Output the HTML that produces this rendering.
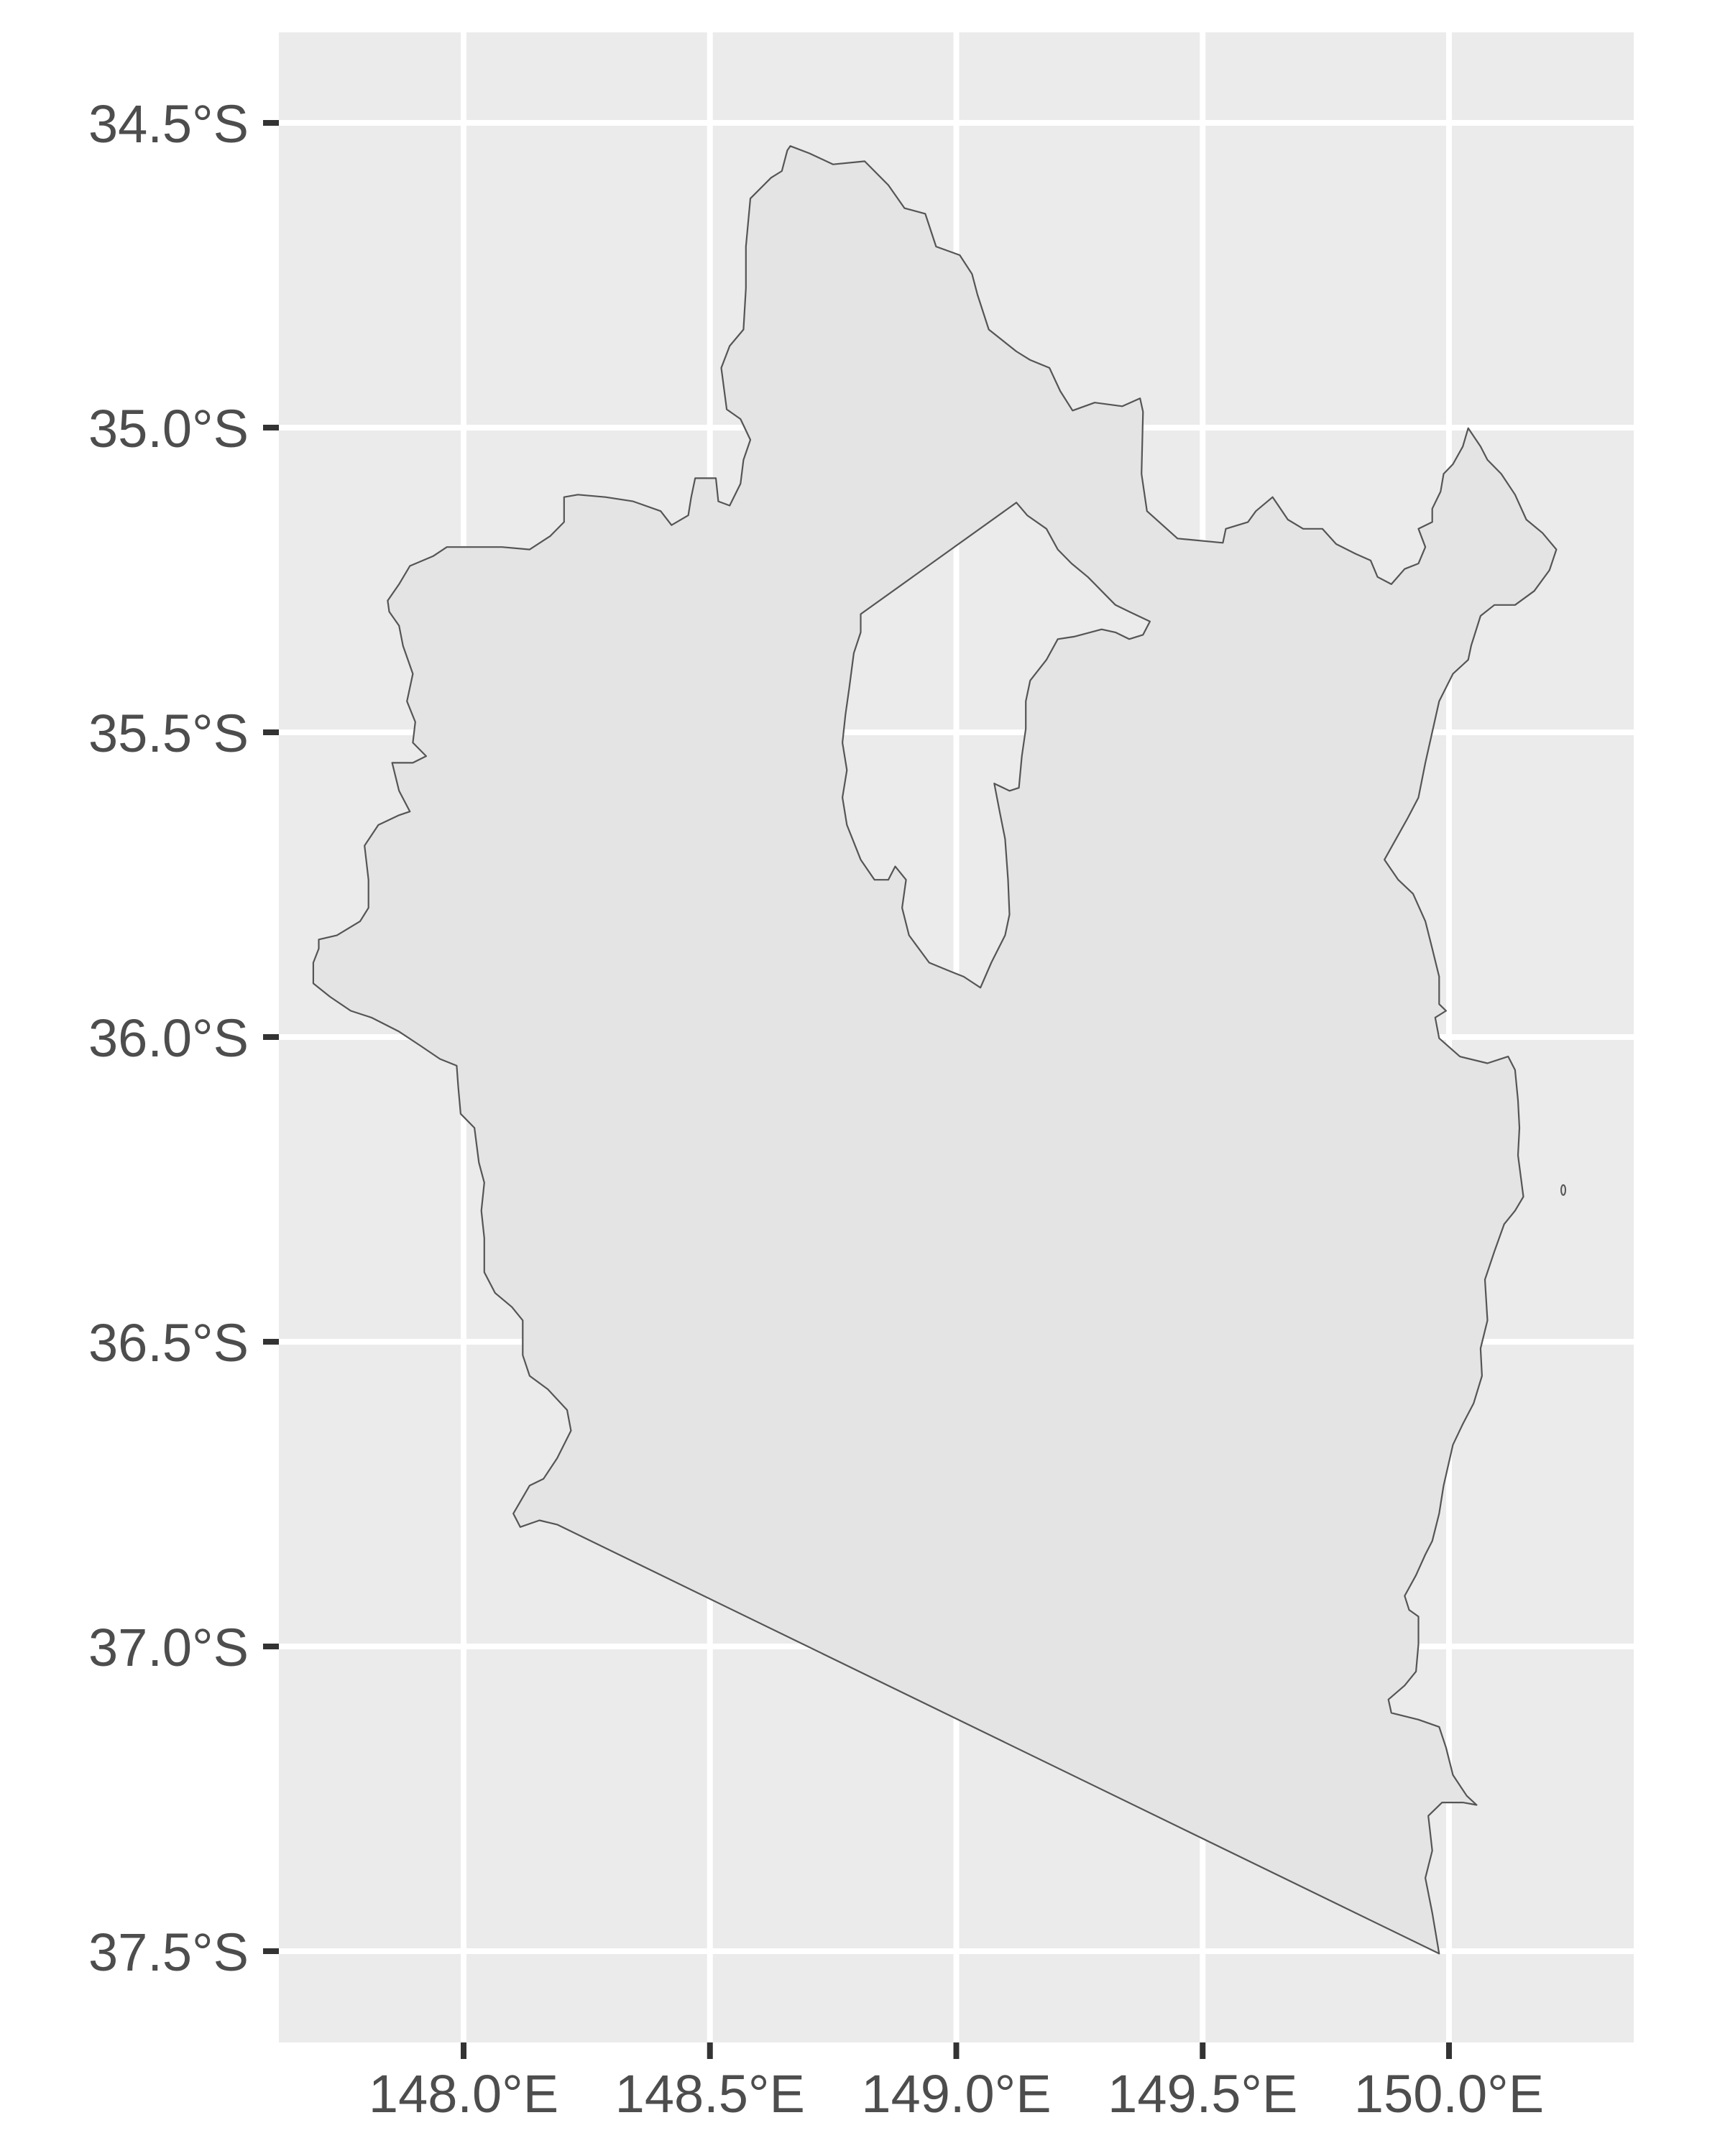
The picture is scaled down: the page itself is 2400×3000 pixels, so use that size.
<!DOCTYPE html>
<html><head><meta charset="utf-8"><style>
html,body{margin:0;padding:0;background:#fff}
svg{display:block}
text{font-family:"Liberation Sans",Arial,sans-serif;fill:#4D4D4D}
</style></head><body>
<svg id="chart" width="2400" height="3000" viewBox="0 0 2400 3000" xmlns="http://www.w3.org/2000/svg">
<rect x="0" y="0" width="2400" height="3000" fill="#fff"/>
<rect x="388" y="45" width="1885" height="2797" fill="#EBEBEB"/>
<g id="grid"></g>
<g id="regions"></g>
<g id="yaxis"></g>
<g id="xaxis"></g>
</svg>
<script>
const lonTicks=[148.0,148.5,149.0,149.5,150.0];
const lonLabels=["148.0°E","148.5°E","149.0°E","149.5°E","150.0°E"];
const latTicks=[34.5,35.0,35.5,36.0,36.5,37.0,37.5];
const latLabels=["34.5°S","35.0°S","35.5°S","36.0°S","36.5°S","37.0°S","37.5°S"];

const outerLon=[148.663,148.702,148.750,148.814,148.862,148.895,148.937,148.959,149.007,149.032,149.043,149.066,149.122,149.150,149.189,149.211,149.236,149.281,149.337,149.373,149.379,149.376,149.387,149.449,149.541,149.547,149.592,149.608,149.642,149.673,149.704,149.743,149.771,149.810,149.841,149.855,149.883,149.910,149.938,149.952,149.938,149.966,149.966,149.983,149.989,150.008,150.028,150.039,150.064,150.078,150.106,150.134,150.157,150.190,150.218,150.204,150.173,150.134,150.092,150.064,150.045,150.039,150.008,149.980,149.952,149.938,149.916,149.869,149.897,149.927,149.952,149.966,149.980,149.980,149.994,149.972,149.980,150.022,150.078,150.120,150.134,150.140,150.143,150.140,150.151,150.134,150.112,150.092,150.073,150.078,150.064,150.067,150.050,150.028,150.008,149.989,149.980,149.966,149.952,149.933,149.910,149.919,149.938,149.938,149.933,149.910,149.877,149.883,149.938,149.980,149.994,150.008,150.036,150.056,150.028,149.986,149.958,149.966,149.952,149.966,149.980,
148.190,148.154,148.115,148.101,148.134,148.162,148.190,148.218,148.210,148.171,148.134,148.120,148.120,148.098,148.064,148.042,148.042,148.036,148.042,148.031,148.022,147.994,147.989,147.986,147.952,147.910,147.869,147.813,147.771,147.729,147.695,147.695,147.706,147.706,147.743,147.790,147.807,147.807,147.799,147.827,147.869,147.891,147.869,147.855,147.897,147.924,147.897,147.902,147.885,147.897,147.877,147.869,147.849,147.846,147.869,147.891,147.938,147.966,148.022,148.078,148.134,148.176,148.204,148.204,148.232,148.288,148.344,148.400,148.422,148.456,148.462,148.470,148.512,148.517,148.540,148.562,148.568,148.582,148.562,148.534,148.523,148.540,148.568,148.573,148.573,148.582,148.624,148.646,148.657];
const outerLat=[34.538,34.550,34.568,34.563,34.602,34.640,34.649,34.703,34.717,34.748,34.782,34.839,34.875,34.889,34.902,34.940,34.972,34.959,34.965,34.952,34.974,35.076,35.137,35.182,35.189,35.166,35.155,35.137,35.114,35.151,35.166,35.166,35.191,35.207,35.218,35.245,35.257,35.232,35.223,35.196,35.166,35.155,35.133,35.105,35.076,35.060,35.031,35.001,35.031,35.053,35.076,35.110,35.151,35.173,35.200,35.234,35.268,35.291,35.291,35.309,35.358,35.381,35.404,35.449,35.550,35.607,35.641,35.709,35.742,35.765,35.810,35.855,35.901,35.946,35.957,35.968,36.002,36.032,36.043,36.032,36.054,36.104,36.149,36.194,36.262,36.285,36.307,36.352,36.398,36.465,36.511,36.556,36.601,36.635,36.669,36.736,36.782,36.827,36.849,36.883,36.917,36.940,36.951,36.996,37.041,37.064,37.087,37.109,37.120,37.132,37.166,37.211,37.245,37.260,37.256,37.256,37.278,37.335,37.380,37.437,37.504,
36.800,36.793,36.804,36.782,36.736,36.725,36.691,36.646,36.612,36.578,36.556,36.522,36.465,36.443,36.420,36.386,36.330,36.285,36.239,36.206,36.149,36.126,36.081,36.047,36.036,36.013,35.991,35.968,35.957,35.934,35.912,35.878,35.855,35.840,35.833,35.810,35.788,35.742,35.686,35.652,35.636,35.630,35.596,35.550,35.550,35.539,35.517,35.483,35.449,35.404,35.358,35.325,35.302,35.284,35.257,35.227,35.211,35.196,35.196,35.196,35.200,35.178,35.155,35.114,35.110,35.114,35.121,35.137,35.160,35.144,35.114,35.083,35.083,35.121,35.128,35.092,35.053,35.020,34.986,34.970,34.902,34.866,34.839,34.771,34.703,34.624,34.590,34.579,34.545];

const holeLon=[148.806,149.122,149.144,149.183,149.206,149.234,149.267,149.295,149.323,149.351,149.393,149.379,149.351,149.323,149.295,149.239,149.206,149.183,149.150,149.141,149.141,149.133,149.127,149.108,149.077,149.088,149.099,149.105,149.108,149.099,149.071,149.049,149.015,148.987,148.945,148.904,148.890,148.898,148.876,148.862,148.834,148.806,148.778,148.769,148.778,148.769,148.775,148.783,148.792,148.806];
const holeLat=[35.306,35.123,35.144,35.166,35.200,35.223,35.245,35.268,35.291,35.302,35.318,35.340,35.347,35.336,35.331,35.343,35.347,35.381,35.415,35.449,35.494,35.539,35.591,35.596,35.584,35.630,35.675,35.742,35.799,35.833,35.878,35.919,35.901,35.892,35.878,35.833,35.788,35.742,35.720,35.742,35.742,35.709,35.652,35.607,35.562,35.517,35.471,35.426,35.370,35.336];

const islandLon=[150.232];
const islandLat=[36.251];

const NS="http://www.w3.org/2000/svg";
const X0=388,X1=2273,Y0=45,Y1=2842;
function xs(lon){return 645+(lon-148)*685.5;}
function ys(lat){return 171+(lat-34.5)*848;}
function mk(tag,attrs,parent){const e=document.createElementNS(NS,tag);for(const k in attrs)e.setAttribute(k,attrs[k]);parent.appendChild(e);return e;}

const grid=document.getElementById('grid');
lonTicks.forEach(v=>{
  const l=mk('line',{x1:xs(v),x2:xs(v),y1:Y0,y2:Y1,stroke:'#fff','stroke-width':8},grid);
  
  
});
latTicks.forEach(v=>{
  const l=mk('line',{x1:X0,x2:X1,y1:ys(v),y2:ys(v),stroke:'#fff','stroke-width':8},grid);
  
  
});

function ring(lons,lats){return lons.map((v,i)=>(i?'L':'M')+xs(v).toFixed(1)+','+ys(lats[i]).toFixed(1)).join('')+'Z';}
const reg=document.getElementById('regions');
const p=mk('path',{d:ring(outerLon,outerLat)+ring(holeLon,holeLat),fill:'#E4E4E4','fill-rule':'evenodd',stroke:'#555','stroke-width':2.2,'stroke-linejoin':'round'},reg);


islandLon.forEach((v,i)=>{
  const e=mk('ellipse',{cx:xs(v),cy:ys(islandLat[i]),rx:3,ry:7,fill:'#E4E4E4',stroke:'#555','stroke-width':2},reg);
  
  
});

const ya=document.getElementById('yaxis');
latTicks.forEach((v,i)=>{
  const t=mk('line',{x1:366,x2:388,y1:ys(v),y2:ys(v),stroke:'#333','stroke-width':8},ya);
  
  
  const tx=mk('text',{x:346,y:ys(v)+27,'text-anchor':'end','font-size':74},ya);
  tx.textContent=latLabels[i];
  
  
});
const xa=document.getElementById('xaxis');
lonTicks.forEach((v,i)=>{
  const t=mk('line',{x1:xs(v),x2:xs(v),y1:2842,y2:2865,stroke:'#333','stroke-width':8},xa);
  
  
  const tx=mk('text',{x:xs(v),y:2939,'text-anchor':'middle','font-size':74},xa);
  tx.textContent=lonLabels[i];
  
  
});
</script>
</body></html>
